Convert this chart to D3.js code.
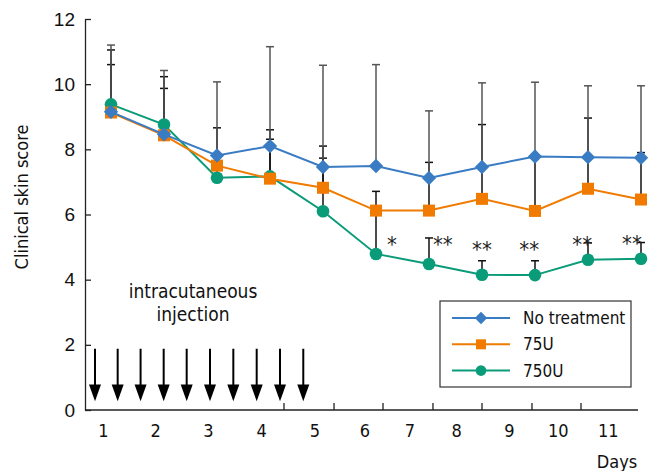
<!DOCTYPE html>
<html>
<head>
<meta charset="utf-8">
<script src="https://cdn.jsdelivr.net/npm/d3@7"></script>
<style>
    body { margin: 0; background: #fff; }
    svg { display: block; font-family: "Liberation Sans Narrow", "DejaVu Sans Condensed", sans-serif; font-stretch: condensed; }
    .axis text { font-size: 19px; fill: #111; }
    .axis path, .axis line { stroke: #222; stroke-width: 1.3px; }
</style>
</head>
<body>
<svg id="chart" width="650" height="471"></svg>
<script>
var days = [1, 2, 3, 4, 5, 6, 7, 8, 9, 10, 11];

var noTreat   = [9.15, 8.46, 7.81, 8.10, 7.46, 7.49, 7.12, 7.46, 7.78, 7.76, 7.74];
var noTreatUp = [11.2, 10.42, 10.07, 11.15, 10.58, 10.6, 9.18, 10.04, 10.06, 9.95, 9.95];
var u75       = [9.13, 8.43, 7.50, 7.10, 6.82, 6.12, 6.12, 6.48, 6.11, 6.79, 6.46];
var u75Up     = [10.6, 9.87, 8.66, 8.6, 8.1, 6.71, 7.6, 8.76, 7.75, 8.96, 7.9];
var u750      = [9.38, 8.76, 7.13, 7.17, 6.10, 4.79, 4.48, 4.15, 4.14, 4.61, 4.64];
var u750Up    = [11.05, 10.23, 7.5, 8.31, 7.73, 6.1, 5.28, 4.58, 4.58, 5.13, 5.14];

// x axis of the original is drawn loosely: labels and ticks sit off the data points
var dayLabels   = ["1", "2", "3", "4", "5", "6", "7", "8", "9", "10", "11"];
var labelDays   = [0.855, 1.843, 2.836, 3.843, 4.849, 5.792, 6.642, 7.523, 8.515, 9.44, 10.383];
var tickDays    = [4.264, 5.208, 6.132, 7.075, 8.0, 8.943, 9.868];
var injectDays  = [0.698, 1.126, 1.558, 1.994, 2.428, 2.868, 3.308, 3.749, 4.189, 4.628];
var yTicks      = [0, 2, 4, 6, 8, 10, 12];

var sigMarks = ["*", "**", "**", "**", "**", "**"];
var sigDays  = [6.3, 7.26, 8.0, 8.89, 9.89, 10.83];
var sigVals  = [5.35, 5.35, 5.2, 5.2, 5.35, 5.4];

var margin = {top: 19, right: 12, bottom: 61, left: 85},
    width = 650 - margin.left - margin.right,
    height = 471 - margin.top - margin.bottom;

var x = d3.scaleLinear().domain([1, 11]).range([26, 556]);
var y = d3.scaleLinear().domain([0, 12]).range([height, 0]);

var series = [
    {name: "750U", values: u750, up: u750Up, color: "#0a9b78", shape: "circle", bar: "#111"},
    {name: "75U", values: u75, up: u75Up, color: "#f07b00", shape: "square", bar: "#111"},
    {name: "No treatment", values: noTreat, up: noTreatUp, color: "#3a7cc3", shape: "diamond", bar: "#555"}
];

var svg = d3.select("#chart")
    .append("g")
    .attr("transform", "translate(" + margin.left + "," + margin.top + ")");

// y axis
svg.append("g")
    .attr("class", "y axis")
    .call(d3.axisLeft(y).tickValues(yTicks).tickSizeInner(-6).tickSizeOuter(0).tickPadding(10));

// x axis
var xg = svg.append("g")
    .attr("class", "x axis")
    .attr("transform", "translate(0," + height + ")");

xg.append("line")
    .attr("x1", 0).attr("x2", width)
    .attr("y1", 0).attr("y2", 0);

xg.selectAll(".tick-mark")
    .data(tickDays)
    .enter()
    .append("line")
    .attr("class", "tick-mark")
    .attr("x1", function(d) { return x(d); })
    .attr("x2", function(d) { return x(d); })
    .attr("y1", 0)
    .attr("y2", -7);

xg.selectAll(".day-label")
    .data(dayLabels)
    .enter()
    .append("text")
    .attr("class", "day-label")
    .attr("x", function(d, i) { return x(labelDays[i]); })
    .attr("y", 27)
    .style("text-anchor", "middle")
    .style("font-size", "18px")
    .text(function(d) { return d; });

xg.append("text")
    .attr("x", 532)
    .attr("y", 58)
    .style("text-anchor", "middle")
    .style("font-size", "18px")
    .text("Days");

svg.append("text")
    .attr("transform", "rotate(-90)")
    .attr("x", -178)
    .attr("y", -57)
    .style("text-anchor", "middle")
    .style("font-size", "18px")
    .style("fill", "#111")
    .text("Clinical skin score");

// injection arrows
var arrows = svg.selectAll(".arrow")
    .data(injectDays)
    .enter()
    .append("g")
    .attr("class", "arrow")
    .attr("transform", function(d) { return "translate(" + x(d) + ",0)"; });

arrows.append("line")
    .attr("x1", 0).attr("x2", 0)
    .attr("y1", y(1.88))
    .attr("y2", y(0.5))
    .attr("stroke", "#000")
    .attr("stroke-width", 2);

arrows.append("path")
    .attr("d", function() {
        var tip = y(0.27), base = y(0.78);
        return "M-6," + base + "L6," + base + "L0," + tip + "Z";
    })
    .attr("fill", "#000");

svg.append("text")
    .attr("x", 108)
    .attr("y", 279)
    .style("text-anchor", "middle")
    .style("font-size", "19px")
    .style("fill", "#111")
    .selectAll("tspan")
    .data(["intracutaneous", "injection"])
    .enter()
    .append("tspan")
    .attr("x", 108)
    .attr("dy", function(d, i) { return i ? 23 : 0; })
    .text(function(d) { return d; });

// error bars (upper only)
series.forEach(function(s) {
    var eb = svg.selectAll(".eb-" + s.shape)
        .data(days)
        .enter()
        .append("g")
        .attr("class", "eb-" + s.shape);

    eb.append("line")
        .attr("x1", function(d) { return x(d); })
        .attr("x2", function(d) { return x(d); })
        .attr("y1", function(d, i) { return y(s.values[i]); })
        .attr("y2", function(d, i) { return y(s.up[i]); })
        .attr("stroke", s.bar)
        .attr("stroke-width", 1.5);

    eb.append("line")
        .attr("x1", function(d) { return x(d) - 4; })
        .attr("x2", function(d) { return x(d) + 4; })
        .attr("y1", function(d, i) { return y(s.up[i]); })
        .attr("y2", function(d, i) { return y(s.up[i]); })
        .attr("stroke", s.bar)
        .attr("stroke-width", 1.5);
});

var line = d3.line()
    .x(function(d) { return x(d[0]); })
    .y(function(d) { return y(d[1]); });

function drawMarker(sel, shape, color, size) {
    if (shape === "circle") {
        sel.append("circle").attr("r", size / 2 + 0.3).attr("fill", color);
    } else if (shape === "square") {
        sel.append("rect")
            .attr("x", -size / 2).attr("y", -size / 2)
            .attr("width", size).attr("height", size)
            .attr("fill", color);
    } else {
        var h = size / 2 + 1.2;
        sel.append("path")
            .attr("d", "M0," + (-h) + "L" + h + ",0L0," + h + "L" + (-h) + ",0Z")
            .attr("fill", color);
    }
}

series.forEach(function(s) {
    svg.append("path")
        .datum(days.map(function(d, i) { return [d, s.values[i]]; }))
        .attr("d", line)
        .attr("fill", "none")
        .attr("stroke", s.color)
        .attr("stroke-width", 2);

    svg.selectAll(".pt-" + s.shape)
        .data(days)
        .enter()
        .append("g")
        .attr("class", "pt-" + s.shape)
        .attr("transform", function(d, i) { return "translate(" + x(d) + "," + y(s.values[i]) + ")"; })
        .each(function() { drawMarker(d3.select(this), s.shape, s.color, 12); });
});

// significance marks
svg.selectAll(".sig")
    .data(sigMarks)
    .enter()
    .append("text")
    .attr("class", "sig")
    .attr("x", function(d, i) { return x(sigDays[i]); })
    .attr("y", function(d, i) { return y(sigVals[i]); })
    .attr("dy", "0.75em")
    .style("text-anchor", "middle")
    .style("font-size", "22px")
    .style("fill", "#222")
    .text(function(d) { return d; });

// legend
var legend = svg.append("g")
    .attr("transform", "translate(355,282)");

legend.append("rect")
    .attr("width", 191)
    .attr("height", 86)
    .attr("fill", "#fff")
    .attr("stroke", "#333")
    .attr("stroke-width", 1.2);

var legendItems = legend.selectAll(".legend-item")
    .data(series.slice().reverse())
    .enter()
    .append("g")
    .attr("class", "legend-item")
    .attr("transform", function(d, i) { return "translate(0," + (17 + i * 26.3) + ")"; });

legendItems.append("line")
    .attr("x1", 12).attr("x2", 70)
    .attr("stroke", function(d) { return d.color; })
    .attr("stroke-width", 2);

legendItems.append("g")
    .attr("transform", "translate(41,0)")
    .each(function(d) { drawMarker(d3.select(this), d.shape, d.color, 10); });

legendItems.append("text")
    .attr("x", 83)
    .attr("dy", "0.35em")
    .style("font-size", "17px")
    .style("fill", "#111")
    .text(function(d) { return d.name; });
</script>
</body>
</html>
